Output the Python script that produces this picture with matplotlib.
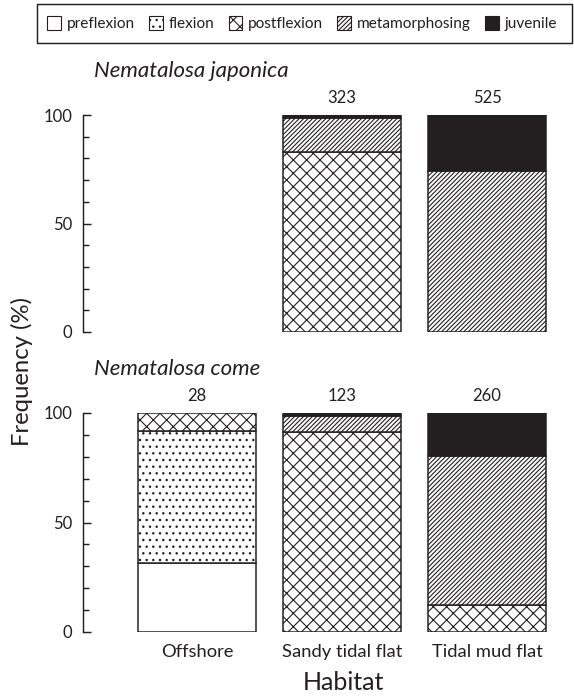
import matplotlib
matplotlib.use("Agg")
import matplotlib.pyplot as plt
from matplotlib.patches import Patch, Rectangle
from matplotlib import transforms

plt.rcParams['font.family'] = ['Lato', 'DejaVu Sans']
plt.rcParams['hatch.color'] = '#231f20'
plt.rcParams['hatch.linewidth'] = 1.0

INK = '#231f20'

habitats = ['Offshore', 'Sandy tidal flat', 'Tidal mud flat']
stages = ['preflexion', 'flexion', 'postflexion', 'metamorphosing', 'juvenile']

# Nematalosa japonica (%)
jap_preflexion = [0, 0, 0]
jap_flexion = [0, 0, 0]
jap_postflexion = [0, 83, 0]
jap_metamorphosing = [0, 15.5, 74]
jap_juvenile = [0, 1.5, 26]
jap_n = ['', '323', '525']

# Nematalosa come (%)
come_preflexion = [31.5, 0, 0]
come_flexion = [60.5, 0, 0]
come_postflexion = [8, 91.5, 12.5]
come_metamorphosing = [0, 7, 68]
come_juvenile = [0, 1.5, 19.5]
come_n = ['28', '123', '260']

styles = {
    'preflexion': dict(facecolor='white', hatch=None),
    'flexion': dict(facecolor='white', hatch='..'),
    'postflexion': dict(facecolor='white', hatch='xx'),
    'metamorphosing': dict(facecolor='white', hatch='//////'),
    'juvenile': dict(facecolor=INK, hatch=None),
}

W, H = 574, 696
DPI = 80
fig = plt.figure(figsize=(W / DPI, H / DPI), dpi=DPI)


def fx(px):
    return px / W


def fy(py):
    return 1 - py / H


left = fx(83)
width = fx(560) - left
ax_top = fig.add_axes([left, fy(332), width, fy(115) - fy(332)])
ax_bot = fig.add_axes([left, fy(632), width, fy(413) - fy(632)])


def draw(ax, series, counts, show_x):
    x = list(range(len(habitats)))
    bottoms = [0.0] * len(x)
    for stage, vals in zip(stages, series):
        st = styles[stage]
        for i, v in enumerate(vals):
            if v <= 0:
                continue
            ax.bar(x[i], v, bottom=bottoms[i], width=0.814,
                   facecolor=st['facecolor'], edgecolor=INK,
                   hatch=st['hatch'], linewidth=1.35)
            bottoms[i] += v
    for i, c in enumerate(counts):
        if c:
            ax.annotate(c, xy=(x[i], 100), xytext=(0, 10.5),
                        textcoords='offset points', ha='center',
                        va='baseline', fontsize=15, color=INK,
                        annotation_clip=False)
    ax.set_xlim(-0.786, 2.503)
    ax.set_ylim(0, 100)
    for s in ['top', 'right', 'bottom']:
        ax.spines[s].set_visible(False)
    ax.spines['left'].set_linewidth(1.3)
    ax.spines['left'].set_color(INK)
    ax.set_yticks([0, 50, 100])
    ax.set_yticks(range(0, 101, 10), minor=True)
    ax.tick_params(axis='y', which='major', direction='in', length=7.5,
                   width=1.3, color=INK, labelsize=15, labelcolor=INK, pad=9.5)
    ax.tick_params(axis='y', which='minor', direction='in', length=5.5,
                   width=1.3, color=INK)
    ax.set_xticks([])
    if show_x:
        trans = transforms.blended_transform_factory(ax.transData,
                                                     fig.transFigure)
        for i, lab in enumerate(habitats):
            ax.text(x[i], fy(657), lab, transform=trans, ha='center',
                    va='baseline', fontsize=16.5, color=INK)


draw(ax_top, [jap_preflexion, jap_flexion, jap_postflexion,
              jap_metamorphosing, jap_juvenile], jap_n, False)
draw(ax_bot, [come_preflexion, come_flexion, come_postflexion,
              come_metamorphosing, come_juvenile], come_n, True)

fig.text(fx(94), fy(77), 'Nematalosa japonica', style='italic',
         fontsize=20, color=INK, ha='left', va='baseline')
fig.text(fx(94), fy(375), 'Nematalosa come', style='italic',
         fontsize=20, color=INK, ha='left', va='baseline')
fig.text(fx(22), fy(371), 'Frequency (%)', rotation=90, fontsize=21.5,
         color=INK, ha='center', va='center')
fig.text(fx(343), fy(690), 'Habitat', fontsize=22.5, color=INK,
         ha='center', va='baseline')

handles = [Patch(facecolor=styles[s]['facecolor'], edgecolor=INK,
                 hatch=styles[s]['hatch'], linewidth=1.0) for s in stages]
leg = fig.legend(handles, stages, loc='center',
                 bbox_to_anchor=(fx(302), fy(23.5)), ncol=5, fontsize=13.8,
                 frameon=False, handlelength=0.9, handleheight=1.0,
                 handletextpad=0.35, columnspacing=0.95, borderpad=0.0,
                 labelcolor=INK)

fig.add_artist(Rectangle((fx(37), fy(43)), fx(572) - fx(37), fy(4) - fy(43),
                         transform=fig.transFigure, fill=False,
                         edgecolor=INK, linewidth=1.3))

fig.savefig('out.png', dpi=DPI)
